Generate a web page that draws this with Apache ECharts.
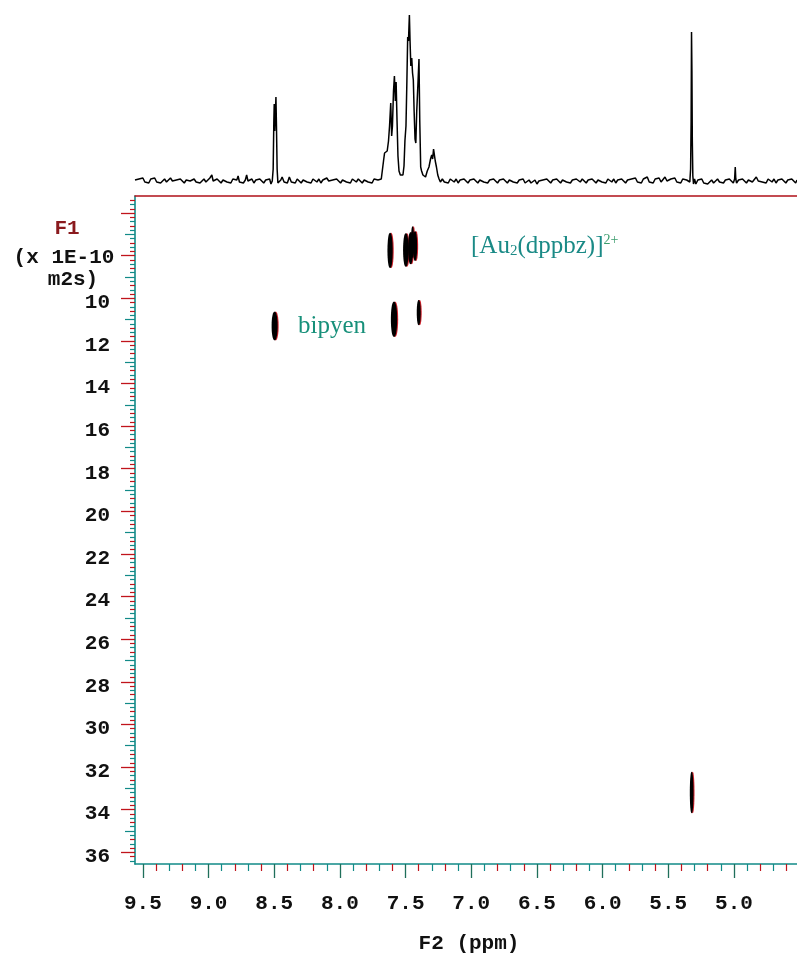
<!DOCTYPE html>
<html>
<head>
<meta charset="utf-8">
<title>DOSY</title>
<script src="https://cdn.jsdelivr.net/npm/echarts@6/dist/echarts.min.js"></script>
<style>
  html, body { margin: 0; padding: 0; background: #ffffff; }
  #chart { width: 797px; height: 955px; }
</style>
</head>
<body>
<div id="chart"></div>
<script>
// F2 (chemical shift, ppm) and F1 (diffusion, x 1E-10 m2s) ranges
const f2Range = [4.52, 9.56];
const f1Range = [5.2, 36.55];

// Tick values
const f2MajorTicks = [9.5, 9.0, 8.5, 8.0, 7.5, 7.0, 6.5, 6.0, 5.5, 5.0];
const f1MajorTicks = [6, 8, 10, 12, 14, 16, 18, 20, 22, 24, 26, 28, 30, 32, 34, 36];
const f1LabelTicks = [10, 12, 14, 16, 18, 20, 22, 24, 26, 28, 30, 32, 34, 36];
const f1MidTicks = [7, 9, 11, 13, 15, 17, 19, 21, 23, 25, 27, 29, 31, 33, 35];

// 1D projection: [ppm, intensity]
const projection = [
  [9.56,1],[9.545,-1],[9.53,2],[9.515,0],[9.50,3],[9.485,-1],[9.47,1],[9.455,-2],[9.44,2],[9.425,0],
  [9.41,3],[9.395,-1],[9.38,1],[9.365,-2],[9.35,0],[9.335,2],[9.32,-1],[9.305,1],[9.29,3],[9.275,0],
  [9.26,-2],[9.245,1],[9.23,-1],[9.215,2],[9.20,0],[9.185,-2],[9.17,1],[9.155,3],[9.14,0],[9.125,-1],
  [9.11,2],[9.095,-1],[9.08,1],[9.065,-2],[9.05,0],[9.035,2],[9.02,-1],[9.005,1],[8.99,3],[8.975,6],
  [8.965,0],[8.95,-1],[8.935,2],[8.92,0],[8.905,-2],[8.89,1],[8.875,3],[8.86,-1],[8.845,1],[8.83,-2],
  [8.815,2],[8.80,0],[8.785,1],[8.775,5],[8.765,-1],[8.75,1],[8.735,-2],[8.72,1],[8.71,6],[8.70,0],
  [8.685,-1],[8.67,2],[8.655,-2],[8.64,1],[8.625,-1],[8.61,2],[8.595,0],[8.58,-2],[8.565,1],[8.55,-1],
  [8.535,2],[8.525,-3],
  [8.515,0],[8.508,12],[8.503,60],[8.500,77],[8.496,50],[8.492,52],[8.487,84],[8.483,55],[8.478,12],[8.472,-2],
  [8.46,-4],[8.45,1],[8.44,4],[8.425,-1],[8.41,1],[8.40,-2],[8.385,4],[8.37,-1],[8.355,1],[8.34,-2],
  [8.325,2],[8.31,0],[8.295,-2],[8.28,1],[8.265,3],[8.25,-1],[8.235,1],[8.22,-2],[8.205,2],[8.19,0],
  [8.175,-1],[8.16,2],[8.145,-2],[8.13,1],[8.115,-1],[8.10,3],[8.085,0],[8.07,-2],[8.055,1],[8.04,-1],
  [8.025,2],[8.01,0],[7.995,-2],[7.98,1],[7.965,3],[7.95,-1],[7.935,1],[7.92,-2],[7.905,2],[7.89,0],
  [7.875,-1],[7.86,2],[7.845,0],[7.83,-2],[7.815,1],[7.80,2],[7.785,-1],[7.77,1],[7.755,-2],[7.74,2],
  [7.725,0],[7.71,1],[7.695,-1],[7.685,2],
  [7.675,2],[7.668,20],[7.66,28],[7.65,26],[7.64,30],[7.63,40],[7.622,55],[7.613,78],[7.606,45],[7.60,55],
  [7.592,90],[7.585,105],[7.578,80],[7.572,99],[7.565,60],[7.558,25],[7.55,10],[7.54,6],[7.53,5],[7.52,6],
  [7.512,15],[7.505,40],[7.497,55],[7.49,100],[7.484,144],[7.478,140],[7.471,166],[7.466,140],[7.46,115],[7.453,123],
  [7.447,108],[7.441,101],[7.435,70],[7.428,42],[7.422,38],[7.415,70],[7.405,100],[7.398,122],[7.392,60],[7.385,14],
  [7.378,10],[7.368,6],[7.358,8],[7.348,4],[7.335,10],[7.322,14],[7.31,22],[7.301,26],[7.294,22],[7.287,32],
  [7.281,31],[7.274,20],[7.265,14],[7.255,6],[7.245,2],[7.235,-1],
  [7.22,2],[7.205,-1],[7.19,1],[7.175,-2],[7.16,2],[7.145,0],[7.13,-1],[7.115,2],[7.10,-2],[7.085,1],
  [7.07,-1],[7.055,2],[7.04,0],[7.025,-2],[7.01,1],[6.995,-1],[6.98,2],[6.965,0],[6.95,-2],[6.935,1],
  [6.92,3],[6.905,-1],[6.89,1],[6.875,-2],[6.86,1],[6.845,-1],[6.83,2],[6.815,0],[6.80,-2],[6.785,1],
  [6.77,-1],[6.755,2],[6.74,0],[6.725,-2],[6.71,1],[6.695,3],[6.68,-1],[6.665,0],[6.65,-2],[6.635,1],
  [6.62,-1],[6.605,2],[6.59,-2],[6.575,0],[6.56,1],[6.545,-2],[6.53,-1],[6.515,1],[6.50,-3],[6.485,0],
  [6.47,-2],[6.455,1],[6.44,-1],[6.425,2],[6.41,0],[6.395,-2],[6.38,1],[6.365,-1],[6.35,2],[6.335,0],
  [6.32,-2],[6.305,1],[6.29,3],[6.275,-1],[6.26,1],[6.245,-2],[6.23,1],[6.215,-1],[6.20,2],[6.185,0],
  [6.17,-1],[6.155,2],[6.14,0],[6.125,-2],[6.11,1],[6.095,-1],[6.08,2],[6.065,0],[6.05,-2],[6.035,1],
  [6.02,3],[6.005,-1],[5.99,1],[5.975,-2],[5.96,2],[5.945,0],[5.93,-1],[5.915,2],[5.90,-2],[5.885,1],
  [5.87,-1],[5.855,2],[5.84,0],[5.825,-2],[5.81,1],[5.795,-1],[5.78,2],[5.765,0],[5.75,3],[5.735,-1],
  [5.72,1],[5.705,-2],[5.69,2],[5.675,0],[5.66,4],[5.645,-1],[5.63,1],[5.615,-2],[5.60,2],[5.585,0],
  [5.57,3],[5.555,-1],[5.54,1],[5.525,4],[5.51,0],[5.495,-2],[5.48,2],[5.465,0],[5.45,3],[5.435,-1],
  [5.42,1],[5.405,-2],[5.39,2],[5.375,0],[5.36,1],[5.345,-1],
  [5.336,-1],[5.330,12],[5.326,60],[5.323,149],[5.320,110],[5.317,40],[5.313,5],[5.308,-3],[5.30,2],
  [5.29,-3],[5.275,1],[5.26,-1],[5.245,2],[5.23,-2],[5.215,0],[5.20,-3],[5.185,-1],[5.17,1],[5.155,-2],
  [5.14,0],[5.125,2],[5.11,-1],[5.095,1],[5.08,-2],[5.065,1],[5.05,-1],[5.035,2],[5.02,0],[5.005,-2],
  [4.995,2],[4.99,14],[4.986,2],[4.98,-2],[4.965,1],[4.95,-1],[4.935,2],[4.92,0],[4.905,-2],[4.89,1],
  [4.875,3],[4.86,-1],[4.845,1],[4.83,4],[4.815,0],[4.80,2],[4.785,-1],[4.77,1],[4.755,-2],[4.74,2],
  [4.725,0],[4.71,-1],[4.695,2],[4.68,-2],[4.665,1],[4.65,-1],[4.635,2],[4.62,0],[4.605,-2],[4.59,1],
  [4.575,-1],[4.56,2],[4.545,0],[4.53,-2],[4.52,1]
];

// 2D cross peaks: [ppm, F1 upper edge, F1 lower edge, half width (ppm)]
const crossPeaks = [
  [8.497, 10.63, 11.97, 0.023],
  [7.618, 6.93, 8.58, 0.020],
  [7.498, 6.95, 8.52, 0.021],
  [7.462, 6.90, 8.40, 0.019],
  [7.447, 6.62, 8.10, 0.012],
  [7.428, 6.85, 8.25, 0.016],
  [7.588, 10.16, 11.81, 0.024],
  [7.400, 10.08, 11.26, 0.015],
  [5.322, 32.22, 34.17, 0.014]
];

// Minor tick positions (0.1 ppm on F2, 0.2 units on F1), split into two colours
const f2MinorA = [], f2MinorB = [];
for (let i = 46; i <= 95; i++) {
  if (i % 5 === 0) continue;
  (i % 2 ? f2MinorA : f2MinorB).push(+(i / 10).toFixed(1));
}
const f1MinorA = [], f1MinorB = [];
for (let k = 27; k <= 182; k++) {
  if (k % 5 === 0) continue;
  (k % 2 ? f1MinorA : f1MinorB).push(+(k / 5).toFixed(1));
}

const TEAL = '#128a88';
const RED = '#c0141c';
const MONO_FAMILY = '"Liberation Mono", "DejaVu Sans Mono", monospace';
const MONO = 'bold 21px ' + MONO_FAMILY;

function tickAxisX(values, len, color) {
  return {
    gridIndex: 1, type: 'value', inverse: true, min: f2Range[0], max: f2Range[1],
    position: 'bottom',
    axisLine: { show: false, onZero: false },
    axisTick: { show: true, customValues: values, length: len, lineStyle: { color: color, width: 1.2 } },
    axisLabel: { show: false },
    splitLine: { show: false }
  };
}
function tickAxisY(values, len, color) {
  return {
    gridIndex: 1, type: 'value', inverse: true, min: f1Range[0], max: f1Range[1],
    position: 'left',
    axisLine: { show: false, onZero: false },
    axisTick: { show: true, customValues: values, length: len, lineStyle: { color: color, width: 1.2 } },
    axisLabel: { show: false },
    splitLine: { show: false }
  };
}

const chart = echarts.init(document.getElementById('chart'), null, { renderer: 'canvas' });

const option = {
  animation: false,
  backgroundColor: '#ffffff',
  grid: [
    { left: 135, right: 0, top: 0, height: 190 },
    { left: 135, right: 0, top: 196, bottom: 91 }
  ],
  xAxis: [
    {
      gridIndex: 1, type: 'value', inverse: true, min: f2Range[0], max: f2Range[1],
      position: 'bottom',
      axisLine: { show: true, onZero: false, lineStyle: { color: TEAL, width: 1.6 } },
      axisTick: { show: true, customValues: f2MajorTicks, length: 14, lineStyle: { color: '#1f6f5a', width: 1.3 } },
      axisLabel: {
        show: true, customValues: f2MajorTicks, margin: 29,
        formatter: v => v.toFixed(1),
        fontFamily: MONO_FAMILY, fontSize: 21, fontWeight: 'bold', color: '#111111'
      },
      splitLine: { show: false }
    },
    tickAxisX(f2MinorA, 7, TEAL),
    tickAxisX(f2MinorB, 7, RED),
    {
      gridIndex: 1, type: 'value', inverse: true, min: f2Range[0], max: f2Range[1],
      position: 'top',
      axisLine: { show: true, onZero: false, lineStyle: { color: '#b01018', width: 1.5 } },
      axisTick: { show: false }, axisLabel: { show: false }, splitLine: { show: false }
    },
    {
      gridIndex: 0, type: 'value', inverse: true, min: f2Range[0], max: f2Range[1],
      show: false
    }
  ],
  yAxis: [
    {
      gridIndex: 1, type: 'value', inverse: true, min: f1Range[0], max: f1Range[1],
      position: 'left',
      axisLine: { show: true, onZero: false, lineStyle: { color: TEAL, width: 1.6 } },
      axisTick: { show: true, customValues: f1MajorTicks, length: 14, lineStyle: { color: RED, width: 1.3 } },
      axisLabel: {
        show: true, customValues: f1LabelTicks, margin: 25,
        formatter: v => '{n|' + v + '}',
        rich: {
          n: {
            fontFamily: MONO_FAMILY, fontSize: 21, fontWeight: 'bold', color: '#111111',
            padding: [9, 0, 0, 0]
          }
        }
      },
      splitLine: { show: false }
    },
    tickAxisY(f1MidTicks, 10, TEAL),
    tickAxisY(f1MinorA, 5, RED),
    tickAxisY(f1MinorB, 5, TEAL),
    {
      gridIndex: 0, type: 'value', min: -9, max: 181, show: false
    }
  ],
  series: [
    {
      type: 'line',
      xAxisIndex: 4, yAxisIndex: 4,
      data: projection,
      showSymbol: false,
      symbol: 'none',
      lineStyle: { color: '#000000', width: 1.5 },
      silent: true
    },
    {
      type: 'custom',
      xAxisIndex: 0, yAxisIndex: 0,
      data: crossPeaks,
      encode: { x: 0, y: [1, 2] },
      silent: true,
      renderItem: function (params, api) {
        const ppm = api.value(0), upper = api.value(1), lower = api.value(2), hw = api.value(3);
        const pTop = api.coord([ppm, upper]);
        const pBot = api.coord([ppm, lower]);
        const pSide = api.coord([ppm - hw, (upper + lower) / 2]);
        const half = Math.abs(pSide[0] - pTop[0]);
        const N = 24;
        const right = [], left = [];
        for (let i = 0; i <= N; i++) {
          const t = Math.PI * i / N;
          const y = pTop[1] + (pBot[1] - pTop[1]) * (1 - Math.cos(t)) / 2;
          const w = half * Math.pow(Math.sin(t), 0.85);
          right.push([pTop[0] + w, y]);
          left.unshift([pTop[0] - w, y]);
        }
        const pts = right.concat(left);
        return {
          type: 'group',
          children: [
            { type: 'polygon', shape: { points: pts.map(p => [p[0] + 1, p[1]]) }, style: { fill: '#d0202a' } },
            { type: 'polygon', shape: { points: pts }, style: { fill: '#000000' } }
          ]
        };
      }
    }
  ],
  graphic: [
    { type: 'text', x: 67, y: 229, style: { text: 'F1', font: MONO, fill: '#8a1a1e', align: 'center', verticalAlign: 'middle', textAlign: 'center', textVerticalAlign: 'middle' } },
    { type: 'text', x: 64, y: 258, style: { text: '(x 1E-10', font: MONO, fill: '#111111', align: 'center', verticalAlign: 'middle', textAlign: 'center', textVerticalAlign: 'middle' } },
    { type: 'text', x: 73, y: 280, style: { text: 'm2s)', font: MONO, fill: '#111111', align: 'center', verticalAlign: 'middle', textAlign: 'center', textVerticalAlign: 'middle' } },
    { type: 'text', x: 469, y: 944, style: { text: 'F2 (ppm)', font: MONO, fill: '#111111', align: 'center', verticalAlign: 'middle', textAlign: 'center', textVerticalAlign: 'middle' } },
    {
      type: 'text', x: 298, y: 326,
      style: {
        text: 'bipyen', font: '25px "Liberation Serif", "DejaVu Serif", serif', fill: '#17907a',
        align: 'left', verticalAlign: 'middle', textAlign: 'left', textVerticalAlign: 'middle'
      }
    },
    {
      type: 'text', x: 471, y: 246,
      style: {
        text: '[Au{s|2}(dppbz)]{p|2+}',
        font: '25px "Liberation Serif", "DejaVu Serif", serif', fill: '#1a8a86',
        align: 'left', verticalAlign: 'middle', textAlign: 'left', textVerticalAlign: 'middle',
        rich: {
          s: { font: '15px "Liberation Serif", serif', fill: '#1a8a86', verticalAlign: 'bottom', padding: [0, 0, 0, 0] },
          p: { font: '14px "Liberation Serif", serif', fill: '#3a9c6c', verticalAlign: 'top' }
        }
      }
    }
  ]
};

chart.setOption(option);
</script>
</body>
</html>
